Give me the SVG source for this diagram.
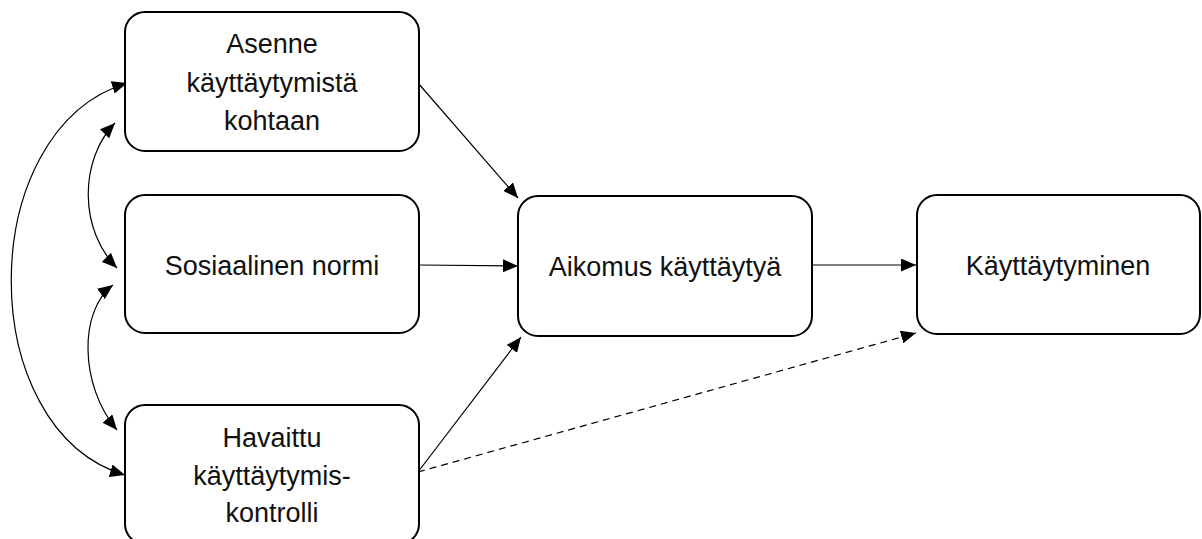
<svg xmlns="http://www.w3.org/2000/svg" width="1202" height="539" viewBox="0 0 1202 539">
<style>
.box{fill:#fff;stroke:#000;stroke-width:2}
.t{font-family:"Liberation Sans",Arial,sans-serif;font-size:27px;fill:#111;text-anchor:middle}
.c{fill:none;stroke:#000;stroke-width:1.2}
.d{stroke-dasharray:7,5}
</style>
<defs>
<marker id="ah" markerUnits="userSpaceOnUse" markerWidth="15" markerHeight="13" viewBox="0 0 15 13" refX="15" refY="6.5" orient="auto-start-reverse">
<path d="M0,0 L15,6.5 L0,13 z" fill="#000"/>
</marker>
</defs>
<rect width="1202" height="539" fill="#fff"/>
<g id="connectors">
<path class="c" d="M418,83 L518,198" marker-end="url(#ah)"/>
<path class="c" d="M419,265 L518,266" marker-end="url(#ah)"/>
<path class="c" d="M418,472 L521,337" marker-end="url(#ah)"/>
<path class="c d" d="M418,472 L916,333" marker-end="url(#ah)"/>
<path class="c" d="M812,265 L916,265" marker-end="url(#ah)"/>
<path class="c" d="M127,83 C-27,130 -27,430 125,475" marker-start="url(#ah)" marker-end="url(#ah)"/>
<path class="c" d="M115,123 C79,160 79,230 117,268" marker-start="url(#ah)" marker-end="url(#ah)"/>
<path class="c" d="M113,285 C79,310 79,385 117,430" marker-start="url(#ah)" marker-end="url(#ah)"/>
</g>
<g id="asenne">
<rect class="box" x="125" y="12" width="294" height="139" rx="20"/>
<text class="t" x="272" y="53">Asenne</text>
<text class="t" x="272" y="92">käyttäytymistä</text>
<text class="t" x="272" y="130">kohtaan</text>
</g>
<g id="normi">
<rect class="box" x="125" y="195" width="294" height="138" rx="20"/>
<text class="t" x="272" y="275">Sosiaalinen normi</text>
</g>
<g id="kontrolli">
<rect class="box" x="125" y="405" width="294" height="139" rx="20"/>
<text class="t" x="272" y="447">Havaittu</text>
<text class="t" x="272" y="485">käyttäytymis-</text>
<text class="t" x="272" y="522">kontrolli</text>
</g>
<g id="aikomus">
<rect class="box" x="518" y="196" width="294" height="140" rx="20"/>
<text class="t" x="665" y="276">Aikomus käyttäytyä</text>
</g>
<g id="kayttaytyminen">
<rect class="box" x="917" y="195" width="283" height="139" rx="20"/>
<text class="t" x="1058" y="275">Käyttäytyminen</text>
</g>
</svg>
